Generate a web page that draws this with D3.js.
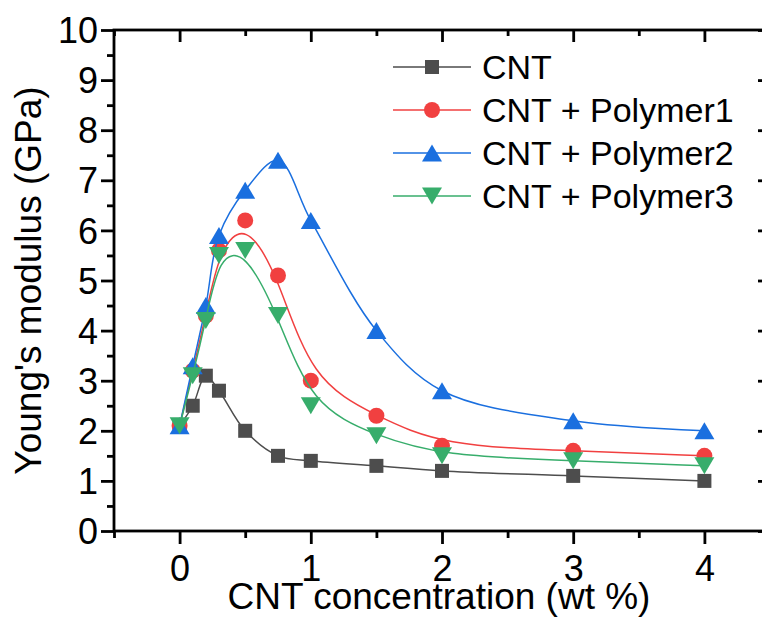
<!DOCTYPE html>
<html>
<head>
<meta charset="utf-8">
<script src="https://cdn.jsdelivr.net/npm/d3@7"></script>
<style>
  html, body { margin: 0; padding: 0; background: #fff; }
  svg { display: block; font-family: "Liberation Sans", Arial, sans-serif; }
</style>
</head>
<body>
<svg id="chart" width="762" height="618"></svg>
<script>
// ---- data ----
const xValues = [0, 0.1, 0.2, 0.3, 0.5, 0.75, 1, 1.5, 2, 3, 4];
const cnt      = [2.1, 2.5, 3.1, 2.8, 2.0, 1.5, 1.4, 1.3, 1.2, 1.1, 1.0];
const polymer1 = [2.1, 3.2, 4.3, 5.6, 6.2, 5.1, 3.0, 2.3, 1.7, 1.6, 1.5];
const polymer2 = [2.1, 3.3, 4.5, 5.9, 6.8, 7.4, 6.2, 4.0, 2.8, 2.2, 2.0];
const polymer3 = [2.1, 3.1, 4.2, 5.5, 5.6, 4.3, 2.5, 1.9, 1.5, 1.4, 1.3];
const seriesNames = ["CNT", "CNT + Polymer1", "CNT + Polymer2", "CNT + Polymer3"];
const xTickValues = [0, 1, 2, 3, 4];
const yTickValues = [0, 1, 2, 3, 4, 5, 6, 7, 8, 9, 10];
const xTitle = "CNT concentration (wt %)";
const yTitle = "Young's modulus (GPa)";

// ---- styles ----
const colors = ["#4d4d4d", "#f14040", "#1a6fdf", "#37ad6b"];
const symbols = ["square", "circle", "up", "down"];
const curves = [d3.curveCatmullRom, d3.curveBasis, d3.curveCatmullRom, d3.curveBasis];
const seriesValues = [cnt, polymer1, polymer2, polymer3];

const svg = d3.select("#chart");
const L = 114, R = 770, T = 30, B = 531;
const x = d3.scaleLinear().domain([-0.5, 4.5]).range([L, R]);
const y = d3.scaleLinear().domain([0, 10]).range([B, T]);

function drawMarker(g, kind, cx, cy, color) {
  if (kind === "square") {
    const s = 14;
    g.append("rect").attr("x", cx - s / 2).attr("y", cy - s / 2)
      .attr("width", s).attr("height", s).attr("fill", color);
  } else if (kind === "circle") {
    g.append("circle").attr("cx", cx).attr("cy", cy).attr("r", 8).attr("fill", color);
  } else {
    const w = 20, h = 17;
    const dir = kind === "up" ? 1 : -1;
    const p = [[cx, cy - dir * h / 2], [cx - w / 2, cy + dir * h / 2], [cx + w / 2, cy + dir * h / 2]];
    g.append("path").attr("d", "M" + p.map(q => q.join(",")).join("L") + "Z").attr("fill", color);
  }
}

// ---- series ----
seriesValues.forEach((vals, i) => {
  const pts = xValues.map((xv, j) => [xv, vals[j]]);
  const line = d3.line().x(d => x(d[0])).y(d => y(d[1])).curve(curves[i]);
  const g = svg.append("g");
  g.append("path").attr("d", line(pts)).attr("fill", "none")
    .attr("stroke", colors[i]).attr("stroke-width", 1.5);
  pts.forEach(d => drawMarker(g, symbols[i], x(d[0]), y(d[1]), colors[i]));
});

// ---- axes ----
const fs = 36;
const axisW = 2.8;
const tickMajor = 13, tickMinor = 7;

const xMinor = d3.range(-0.5, 4.51, 0.5).filter(v => !xTickValues.includes(v));
const yMinor = d3.range(0.5, 10, 1);

// bottom axis
const bottom = d3.axisBottom(x).tickValues(xTickValues).tickSize(tickMajor).tickFormat(d3.format("d"));
const gb = svg.append("g").attr("transform", `translate(0,${B})`).call(bottom);
gb.select(".domain").remove();
gb.selectAll(".tick line").attr("stroke", "#000").attr("stroke-width", axisW);
gb.selectAll(".tick text").attr("font-size", fs).attr("fill", "#000")
  .attr("font-family", "Liberation Sans, Arial, sans-serif").attr("dy", 0).attr("y", 50);
const gbm = svg.append("g").attr("transform", `translate(0,${B})`)
  .call(d3.axisBottom(x).tickValues(xMinor).tickSize(tickMinor).tickFormat(""));
gbm.select(".domain").remove();
gbm.selectAll(".tick line").attr("stroke", "#000").attr("stroke-width", axisW);

// top axis (ticks inward)
const gt = svg.append("g").attr("transform", `translate(0,${T})`)
  .call(d3.axisBottom(x).tickValues(xTickValues).tickSize(tickMajor - 1).tickFormat(""));
gt.select(".domain").remove();
gt.selectAll(".tick line").attr("stroke", "#000").attr("stroke-width", axisW);
const gtm = svg.append("g").attr("transform", `translate(0,${T})`)
  .call(d3.axisBottom(x).tickValues(xMinor).tickSize(tickMinor - 1).tickFormat(""));
gtm.select(".domain").remove();
gtm.selectAll(".tick line").attr("stroke", "#000").attr("stroke-width", axisW);

// left axis
const gl = svg.append("g").attr("transform", `translate(${L},0)`)
  .call(d3.axisLeft(y).tickValues(yTickValues).tickSize(tickMajor).tickFormat(d3.format("d")));
gl.select(".domain").remove();
gl.selectAll(".tick line").attr("stroke", "#000").attr("stroke-width", axisW);
gl.selectAll(".tick text").attr("font-size", fs).attr("fill", "#000")
  .attr("font-family", "Liberation Sans, Arial, sans-serif").attr("x", -16).attr("dy", "0.35em");
const glm = svg.append("g").attr("transform", `translate(${L},0)`)
  .call(d3.axisLeft(y).tickValues(yMinor).tickSize(tickMinor).tickFormat(""));
glm.select(".domain").remove();
glm.selectAll(".tick line").attr("stroke", "#000").attr("stroke-width", axisW);

// right axis (ticks inward)
const gr = svg.append("g").attr("transform", `translate(${R},0)`)
  .call(d3.axisLeft(y).tickValues(yTickValues).tickSize(tickMajor - 1).tickFormat(""));
gr.select(".domain").remove();
gr.selectAll(".tick line").attr("stroke", "#000").attr("stroke-width", axisW);
const grm = svg.append("g").attr("transform", `translate(${R},0)`)
  .call(d3.axisLeft(y).tickValues(yMinor).tickSize(tickMinor - 1).tickFormat(""));
grm.select(".domain").remove();
grm.selectAll(".tick line").attr("stroke", "#000").attr("stroke-width", axisW);

// frame
svg.append("rect").attr("x", L).attr("y", T).attr("width", R - L).attr("height", B - T)
  .attr("fill", "none").attr("stroke", "#000").attr("stroke-width", axisW);

// titles
svg.append("text").attr("x", (L + R) / 2 - 3).attr("y", 609).attr("text-anchor", "middle")
  .attr("font-size", 37).attr("fill", "#000").text(xTitle);
svg.append("text").attr("transform", `translate(41,${(T + B) / 2}) rotate(-90)`)
  .attr("text-anchor", "middle").attr("font-size", 37).attr("fill", "#000").text(yTitle);

// legend
const legY0 = 67, legDy = 43;
seriesNames.forEach((name, i) => {
  const g = svg.append("g");
  const yy = legY0 + i * legDy;
  g.append("line").attr("x1", 393).attr("x2", 471).attr("y1", yy).attr("y2", yy)
    .attr("stroke", colors[i]).attr("stroke-width", 1.5);
  drawMarker(g, symbols[i], 432, yy, colors[i]);
  g.append("text").attr("x", 482).attr("y", yy).attr("dy", "0.36em")
    .attr("font-size", 34).attr("fill", "#000").text(name);
});
</script>
</body>
</html>
